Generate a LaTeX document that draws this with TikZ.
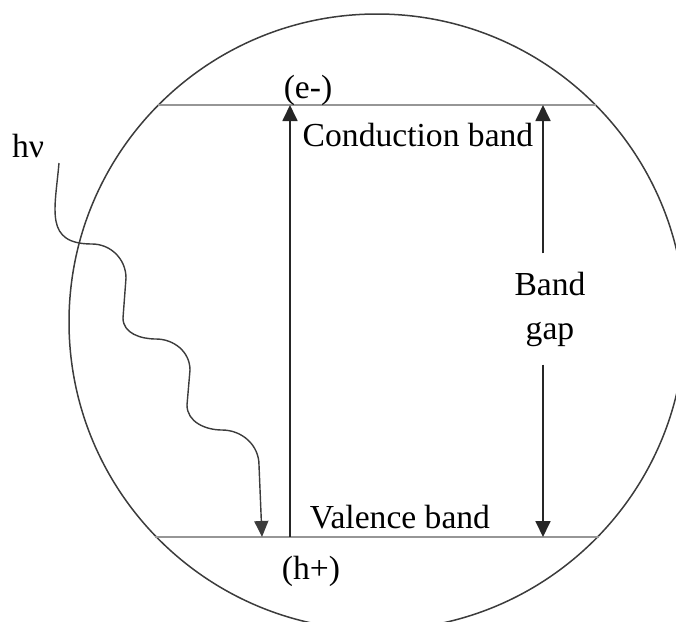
\documentclass[tikz,border=0pt]{standalone}
\usepackage{fontspec}
\setmainfont{Liberation Serif}
\usetikzlibrary{arrows.meta, positioning, calc}
\definecolor{cBand}{RGB}{150,150,150}
\definecolor{cRim}{RGB}{60,60,60}
\tikzset{
  lbl/.style={inner sep=0pt, align=center, font=\fontsize{16.8}{22}\selectfont},
  bandline/.style={draw=cBand, line width=1.3pt},
  rimline/.style={draw=cRim, line width=0.75pt},
  arrow/.style={-{Triangle[length=8pt, width=7.5pt]}, line width=0.9pt, color=black!85},
  photon/.style={-{Triangle[length=8pt, width=7pt]}, line width=0.7pt, color=cRim}
}

\begin{document}
\begin{tikzpicture}[x=0.5pt, y=0.5pt]
  \useasboundingbox (0,0) rectangle (676,-622);
  \clip (0,0) rectangle (676,-622);

  % particle
  \coordinate (ctr) at (377,-322);
  \draw[rimline] (ctr) circle[radius=308];

  % band edges
  \coordinate (cbL) at (158,-105);
  \coordinate (cbR) at (596,-105);
  \coordinate (vbL) at (155,-537);
  \coordinate (vbR) at (599,-537);
  \draw[bandline] (cbL) -- (cbR);
  \draw[bandline] (vbL) -- (vbR);

  \node[lbl] (elec) at (308,-90) {(e-)};
  \node[lbl] (hole) at (311,-571) {(h+)};
  \node[lbl] (cband) at (418,-135) {Conduction band};
  \node[lbl] (vband) at (400,-517) {Valence band};
  \node[lbl, inner ysep=9pt] (gap) at (550,-309) {Band\\gap};
  \node[lbl] (hnu) at (28,-146) {hν};

  % excitation
  \coordinate (exTop) at (290,-105);
  \coordinate (exBot) at (290,-537);
  \draw[arrow] (exBot) -- (exTop);

  % band gap
  \coordinate (gapTop) at (543,-105);
  \coordinate (gapBot) at (543,-537);
  \draw[arrow] (gap.north -| gapTop) -- (gapTop);
  \draw[arrow] (gap.south -| gapBot) -- (gapBot);

  % incoming photon
  \coordinate (phStart) at (59,-163);
  \coordinate (phEnd) at (262,-537);
  \draw[photon] (phStart) to[out=-95, in=180, looseness=1.4] (92,-244)
    to[out=0, in=90] (126,-278) -- (123,-318)
    to[out=-90, in=180] (156,-339) to[out=0, in=90] (190,-370) -- (187,-405)
    to[out=-90, in=180] (222,-430) to[out=0, in=90] (259,-465) -- (phEnd);
\end{tikzpicture}
\end{document}
